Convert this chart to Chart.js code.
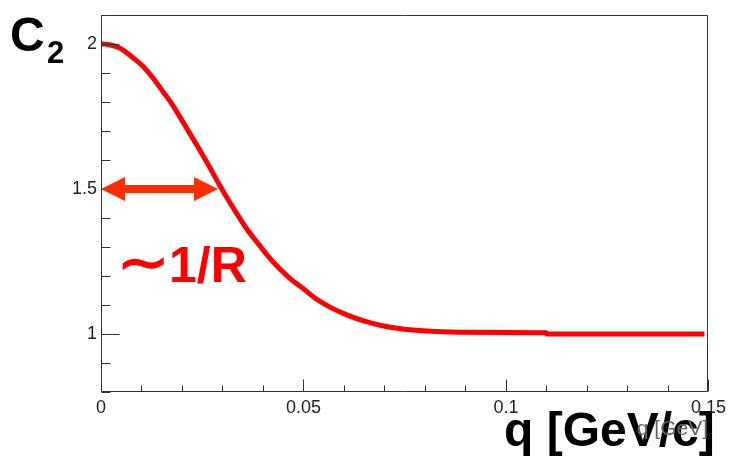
<!DOCTYPE html>
<html>
<head>
<meta charset="utf-8" />
<title>C2 correlation</title>
<style>
  html, body { margin: 0; padding: 0; background: #fff; }
  #c2_chart { display: block; }
</style>
</head>
<body>
<canvas id="c2_chart" width="731" height="456"></canvas>

<script src="https://cdn.jsdelivr.net/npm/chart.js"></script>
<script>

// correlation function C2 vs relative momentum q
const qValues  = [0, 0.001, 0.0047, 0.0079, 0.0104, 0.0128, 0.0153, 0.0177, 0.0194, 0.0218, 0.0243, 0.0267,
                  0.0292, 0.0304, 0.0333, 0.0357, 0.039, 0.0422, 0.0463, 0.0504, 0.0529, 0.0569, 0.061,
                  0.0651, 0.0692, 0.0749, 0.0815, 0.09, 0.1, 0.1099, 0.1101, 0.13, 0.149];
const c2Values = [2.0, 1.999, 1.985, 1.952, 1.922, 1.883, 1.835, 1.789, 1.75, 1.694, 1.636, 1.578,
                  1.515, 1.486, 1.42, 1.368, 1.308, 1.253, 1.196, 1.151, 1.123, 1.09, 1.064,
                  1.044, 1.029, 1.016, 1.009, 1.006, 1.005, 1.004, 1.0, 1.0, 1.0];

const xTickValues = [0, 0.05, 0.1, 0.15];
const xTickLabels = ['0', '0.05', '0.1', '0.15'];
const yTickValues = [1, 1.5, 2];
const yTickLabels = ['1', '1.5', '2'];

// width arrow at half height
const arrowFrom = 0;
const arrowTo = 0.0289;
const arrowLevel = 1.5;

const FONT = "'Liberation Sans', Arial, sans-serif";

// frame + inward ROOT style ticks
const rootAxes = {
  id: 'rootAxes',
  afterDatasetsDraw(chart) {
    const ctx = chart.ctx;
    const a = chart.chartArea;
    const x = chart.scales.x, y = chart.scales.y;
    const L = Math.round(a.left) + 0.5, R = Math.round(a.right) - 0.5;
    const T = Math.round(a.top) + 0.5, B = Math.round(a.bottom) - 0.5;
    ctx.save();
    ctx.strokeStyle = '#333';
    ctx.lineWidth = 1;
    ctx.beginPath();
    ctx.rect(L, T, R - L, B - T);
    // y ticks every 0.1
    for (let i = 8; i <= 21; i++) {
      const v = i / 10;
      const py = Math.round(y.getPixelForValue(v)) + 0.5;
      const len = yTickValues.some(t => Math.abs(t - v) < 1e-9) ? 18 : 9;
      ctx.moveTo(L, py);
      ctx.lineTo(L + len, py);
    }
    // x ticks every 0.01
    for (let i = 0; i <= 15; i++) {
      const v = i / 100;
      const px = Math.round(x.getPixelForValue(v)) + 0.5;
      const len = xTickValues.some(t => Math.abs(t - v) < 1e-9) ? 12 : 6;
      ctx.moveTo(px, B);
      ctx.lineTo(px, B - len);
    }
    ctx.stroke();
    ctx.restore();
  }
};

const labels = {
  id: 'labels',
  afterDraw(chart) {
    const ctx = chart.ctx;
    const x = chart.scales.x, y = chart.scales.y;
    ctx.save();

    // double arrow
    const x0 = x.getPixelForValue(arrowFrom);
    const x1 = x.getPixelForValue(arrowTo);
    const ay = y.getPixelForValue(arrowLevel);
    const head = 24, half = 12, shaft = 4;
    ctx.fillStyle = '#ff2d00';
    ctx.beginPath();
    ctx.moveTo(x0, ay);
    ctx.lineTo(x0 + head, ay - half);
    ctx.lineTo(x0 + head, ay - shaft);
    ctx.lineTo(x1 - head, ay - shaft);
    ctx.lineTo(x1 - head, ay - half);
    ctx.lineTo(x1, ay);
    ctx.lineTo(x1 - head, ay + half);
    ctx.lineTo(x1 - head, ay + shaft);
    ctx.lineTo(x0 + head, ay + shaft);
    ctx.lineTo(x0 + head, ay + half);
    ctx.closePath();
    ctx.fill();

    ctx.textAlign = 'left';
    ctx.textBaseline = 'alphabetic';

    // ~1/R, tilde drawn a bit wider
    ctx.fillStyle = '#ff0000';
    ctx.font = 'bold 50px ' + FONT;
    ctx.save();
    ctx.translate(117, 281);
    ctx.scale(1.25, 1.1);
    ctx.fillText('\u223C', 0, 0);
    ctx.restore();
    ctx.fillText('1/R', 169, 282);

    ctx.fillStyle = '#000';
    ctx.font = 'bold 48px ' + FONT;
    ctx.fillText('C', 10, 51);
    ctx.font = 'bold 31px ' + FONT;
    ctx.fillText('2', 47, 63);

    ctx.font = 'bold 48px ' + FONT;
    ctx.fillText('q [GeV/c]', 504, 446);

    ctx.fillStyle = '#666';
    ctx.font = '21px ' + FONT;
    ctx.textAlign = 'right';
    ctx.fillText('q [GeV]', 708, 435);

    ctx.restore();
  }
};

const ctx = document.getElementById('c2_chart');

const data = {
  datasets: [{
    label: 'C2',
    data: qValues.map((q, i) => ({ x: q, y: c2Values[i] })),
    borderColor: '#ff0000',
    borderWidth: 5,
    pointRadius: 0,
    fill: false,
    cubicInterpolationMode: 'monotone'
  }]
};

const options = {
  responsive: false,
  animation: false,
  devicePixelRatio: 1,
  layout: { padding: { left: 0, right: 18, top: 12, bottom: 0 } },
  plugins: {
    legend: { display: false },
    tooltip: { enabled: false }
  },
  scales: {
    x: {
      type: 'linear',
      min: 0,
      max: 0.15,
      grid: { display: false, drawTicks: false },
      border: { display: false },
      afterBuildTicks: s => { s.ticks = xTickValues.map(v => ({ value: v })); },
      afterFit: s => { s.height = 64; },
      ticks: {
        padding: 5,
        color: '#222',
        maxRotation: 0,
        autoSkip: false,
        font: { family: FONT, size: 18 },
        callback: (v, i) => xTickLabels[i]
      }
    },
    y: {
      type: 'linear',
      min: 0.8,
      max: 2.1,
      grid: { display: false, drawTicks: false },
      border: { display: false },
      afterBuildTicks: s => { s.ticks = yTickValues.map(v => ({ value: v })); },
      afterFit: s => { s.width = 101; },
      ticks: {
        padding: 4,
        color: '#222',
        autoSkip: false,
        font: { family: FONT, size: 18 },
        callback: (v, i) => yTickLabels[i]
      }
    }
  }
};

const c2_chart = new Chart(ctx, {
  type: 'line',
  data: data,
  options: options,
  plugins: [rootAxes, labels]
});

</script>
</body>
</html>
